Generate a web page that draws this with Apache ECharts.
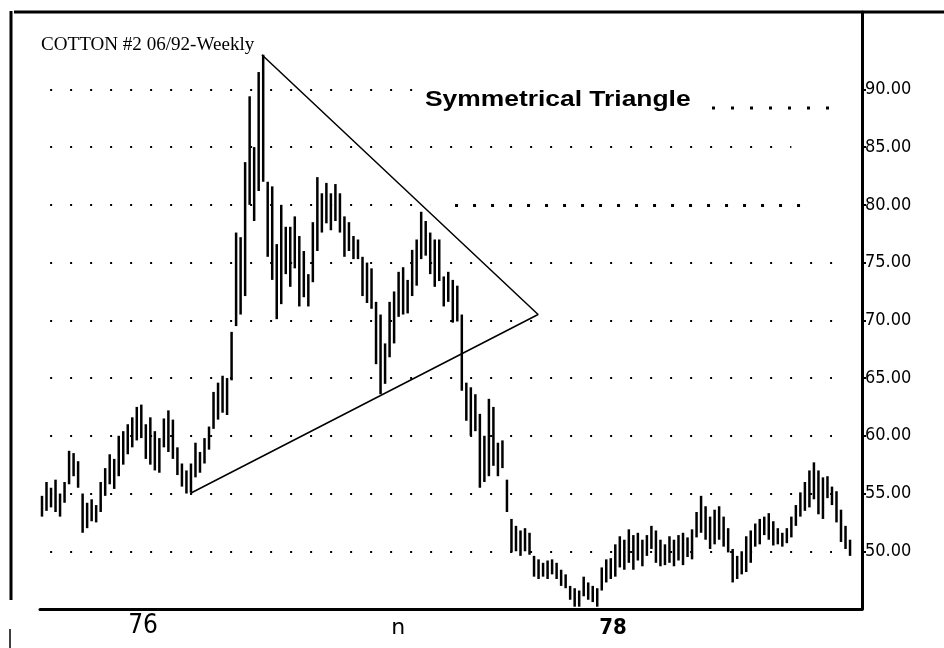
<!DOCTYPE html>
<html>
<head>
<meta charset="utf-8">
<title>COTTON #2 06/92-Weekly</title>
<script src="https://cdn.jsdelivr.net/npm/echarts@6/dist/echarts.min.js"></script>
<style>
    html, body { margin: 0; padding: 0; background: #fff; }
    #main { width: 944px; height: 648px; }
</style>
</head>
<body>
<div id="main"></div>
<script>
// weekly bars (one value per week, left to right)
var highs = [
    54.8, 56.0, 55.5, 56.2, 55.0, 56.0, 58.7, 58.5, 57.8, 55.0,
    54.2, 54.5, 54.0, 56.0, 57.2, 58.4, 58.0, 60.0, 60.4, 61.0,
    61.6, 62.5, 62.7, 61.0, 61.6, 60.4, 59.8, 61.5, 62.2, 61.4,
    59.0, 57.6, 57.0, 57.6, 59.4, 58.6, 59.8, 60.8, 63.8, 64.6,
    65.2, 65.0, 69.0, 77.6, 77.2, 83.7, 89.4, 85.0, 91.5, 93.0,
    82.0, 81.6, 76.6, 80.0, 78.1, 78.1, 79.0, 77.3, 76.0, 74.0,
    78.5, 82.4, 81.0, 81.9, 81.0, 81.8, 81.0, 79.0, 78.5, 77.3,
    77.0, 75.5, 75.0, 74.5, 71.6, 70.5, 68.0, 71.6, 72.5, 74.2,
    74.6, 73.5, 76.1, 77.0, 79.4, 78.6, 77.6, 77.0, 77.0, 73.8,
    74.2, 73.5, 73.0, 70.5, 64.6, 64.2, 63.6, 61.9, 60.0, 63.2,
    62.5, 59.4, 59.6, 56.2, 52.8, 52.2, 51.8, 52.0, 51.6, 49.6,
    49.3, 49.0, 49.2, 49.3, 49.0, 48.4, 48.0, 47.0, 46.8, 46.6,
    47.8, 47.3, 47.0, 46.8, 48.6, 49.3, 49.4, 50.6, 51.3, 51.0,
    51.9, 51.4, 51.6, 51.0, 51.4, 52.2, 51.8, 51.0, 50.6, 51.3,
    51.0, 51.4, 51.6, 51.2, 51.9, 53.4, 54.8, 53.9, 53.0, 53.6,
    53.9, 53.0, 52.0, 50.2, 49.6, 50.0, 51.3, 51.8, 52.4, 52.8,
    53.0, 53.3, 52.6, 52.0, 51.6, 52.0, 53.0, 54.0, 55.1, 56.0,
    57.0, 57.7, 57.0, 56.4, 56.5, 55.6, 55.2, 53.6, 52.2, 51.0
];
var lows = [
    53.0, 53.5, 53.8, 53.4, 53.0, 54.2, 55.8, 56.5, 55.5, 51.6,
    52.0, 52.6, 52.5, 53.4, 54.8, 55.8, 55.4, 56.5, 57.5, 58.4,
    59.0, 59.6, 59.8, 58.0, 57.5, 57.0, 56.8, 59.0, 58.6, 58.0,
    56.6, 55.6, 55.0, 55.1, 56.4, 56.8, 57.6, 58.8, 60.6, 61.4,
    62.0, 61.8, 64.8, 69.5, 70.5, 72.1, 80.0, 78.6, 81.2, 82.0,
    75.5, 73.5, 70.1, 71.4, 74.0, 72.9, 74.5, 71.2, 72.0, 71.2,
    73.3, 76.0, 77.6, 78.4, 77.8, 78.6, 77.6, 75.5, 76.0, 75.3,
    75.3, 72.1, 71.5, 71.0, 66.2, 63.6, 64.5, 66.8, 68.0, 70.3,
    70.5, 70.6, 72.1, 73.0, 75.3, 75.6, 74.0, 72.9, 73.4, 71.2,
    71.6, 69.8, 69.9, 63.9, 61.3, 60.0, 60.4, 55.5, 56.0, 56.5,
    57.4, 56.5, 57.2, 53.4, 49.9, 50.0, 49.6, 50.0, 49.7, 47.8,
    47.6, 47.8, 47.6, 48.0, 47.6, 47.0, 46.8, 45.8, 45.2, 45.2,
    46.1, 45.8, 45.6, 45.2, 46.6, 47.3, 47.6, 47.8, 48.6, 48.4,
    49.0, 48.4, 49.2, 48.7, 49.6, 50.2, 49.0, 48.7, 48.8, 49.0,
    48.7, 49.2, 48.8, 49.5, 49.3, 51.2, 51.6, 51.0, 50.2, 50.6,
    51.0, 50.4, 49.9, 47.3, 47.6, 48.0, 48.2, 49.0, 50.4, 50.6,
    51.4, 51.0, 50.5, 50.6, 50.4, 50.7, 51.2, 52.2, 53.0, 53.5,
    53.8, 54.5, 53.2, 52.8, 54.6, 54.0, 52.5, 50.8, 50.2, 49.6
];
var yTicks = [50, 55, 60, 65, 70, 75, 80, 85, 90];
var xTickWeeks = [22.4, 78.9, 126.5];
var xTickLabels = ['76', 'n', '78'];
// triangle: top apex -> right apex -> lower left
var triangle = [[48.7, 93.0], [109.9, 70.5], [32.8, 55.0]];

// 布局: 点线的起止(周序号)
var rowSpan = {
    90: [1.8, 82], 85: [1.8, 166], 80: [1.8, 86], 75: [1.8, 175.7], 70: [1.8, 175.7],
    65: [1.8, 175], 60: [1.8, 175], 55: [1.8, 175], 50: [1.8, 175]
};

var chart = echarts.init(document.getElementById('main'));

var bars = [];
for (var i = 0; i < highs.length; i++) {
    bars.push([i, highs[i], lows[i]]);
}

var rowLines = [];
for (var k = 0; k < yTicks.length; k++) {
    var v = yTicks[k];
    rowLines.push([{coord: [rowSpan[v][0], v]}, {coord: [rowSpan[v][1], v]}]);
}

var condensed = "'Liberation Sans Narrow', 'DejaVu Sans Condensed', sans-serif";

chart.setOption({
    animation: false,
    backgroundColor: '#fff',
    grid: {left: 40, right: 82, top: 12, bottom: 39},
    xAxis: {
        type: 'value',
        min: -0.44,
        max: 181.65,
        splitLine: {show: false},
        axisTick: {show: false},
        axisLine: {show: true, onZero: false, lineStyle: {color: '#000', width: 3}},
        axisLabel: {
            customValues: xTickWeeks,
            margin: 4,
            formatter: function (val) {
                for (var j = 0; j < xTickWeeks.length; j++) {
                    if (Math.abs(xTickWeeks[j] - val) < 0.01) {
                        return '{l' + j + '|' + xTickLabels[j] + '}';
                    }
                }
                return '';
            },
            rich: {
                l0: {fontFamily: condensed, fontSize: 26, color: '#000'},
                l1: {fontFamily: "'DejaVu Sans', sans-serif", fontSize: 22, color: '#000', padding: [4, 0, 0, 0]},
                l2: {fontFamily: condensed, fontSize: 22, fontWeight: 'bold', color: '#000', padding: [4, 0, 0, 0]}
            }
        }
    },
    yAxis: {
        type: 'value',
        position: 'right',
        min: 45,
        max: 96.7,
        interval: 5,
        splitLine: {show: false},
        axisLine: {show: true, onZero: false, lineStyle: {color: '#000', width: 3}},
        axisTick: {show: true, customValues: yTicks, length: 4, lineStyle: {color: '#000', width: 2}},
        axisLabel: {
            customValues: yTicks,
            margin: 3,
            color: '#000',
            fontFamily: condensed,
            fontSize: 18,
            formatter: function (val) {
                if (val < 50 || val > 90) return '';
                return val.toFixed(2);
            }
        }
    },
    graphic: [
        // 上边框和左边框
        {type: 'line', shape: {x1: 14, y1: 12, x2: 944, y2: 12}, style: {stroke: '#000', lineWidth: 3}},
        {type: 'line', shape: {x1: 11, y1: 11, x2: 11, y2: 600}, style: {stroke: '#000', lineWidth: 3}},
        {type: 'line', shape: {x1: 10, y1: 629, x2: 10, y2: 648}, style: {stroke: '#000', lineWidth: 1.5}},
        {
            type: 'text', x: 41, y: 36, scaleX: 1.06,
            style: {
                text: 'COTTON #2 06/92-Weekly',
                fontFamily: "'Liberation Serif', serif",
                fontSize: 18, fill: '#000'
            }
        },
        {
            type: 'text', x: 425, y: 89, scaleX: 1.2,
            style: {
                text: 'Symmetrical Triangle',
                fontFamily: "'Liberation Sans', Arial, sans-serif",
                fontSize: 22, fontWeight: 'bold', fill: '#000'
            }
        },
        {type: 'line', shape: {x1: 712, y1: 108, x2: 830, y2: 108}, style: {stroke: '#000', lineWidth: 3, lineDash: [3, 16]}}
    ],
    series: [
        {
            type: 'custom',
            data: bars,
            encode: {x: 0, y: [1, 2]},
            renderItem: function (params, api) {
                var hi = api.coord([api.value(0), api.value(1)]);
                var lo = api.coord([api.value(0), api.value(2)]);
                return {
                    type: 'line',
                    shape: {x1: hi[0], y1: hi[1], x2: lo[0], y2: lo[1]},
                    style: {stroke: '#000', lineWidth: 2.5}
                };
            },
            markLine: {
                silent: true,
                symbol: 'none',
                label: {show: false},
                lineStyle: {color: '#000', width: 2, type: [2, 18]},
                data: rowLines.concat([
                    // 80 这一行右半段的粗点
                    [{coord: [91.5, 80], lineStyle: {width: 3, type: [3, 15]}}, {coord: [168, 80]}]
                ])
            }
        },
        {
            type: 'line',
            data: triangle,
            symbol: 'none',
            silent: true,
            lineStyle: {color: '#000', width: 1.5}
        }
    ]
});
</script>
</body>
</html>
